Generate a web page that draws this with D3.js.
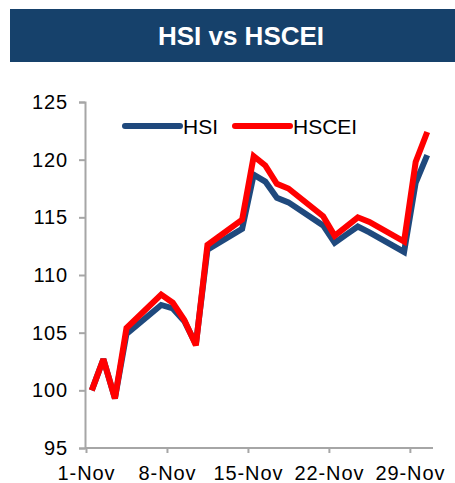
<!DOCTYPE html>
<html>
<head>
<meta charset="utf-8">
<script src="https://cdn.jsdelivr.net/npm/d3@7"></script>
<style>
html,body{margin:0;padding:0;background:#fff;}
svg{display:block;font-family:"Liberation Sans",Arial,sans-serif;}
</style>
</head>
<body>
<svg id="chart" width="455" height="483"></svg>
<script>
const days = [1,2,3,4,7,8,9,10,11,14,15,16,17,18,21,22,23,24,25,28,29,30];
const hsi   = [100.0,102.7,99.3,104.9,107.4,107.1,106.0,104.0,112.2,114.0,118.7,118.1,116.7,116.3,114.3,112.8,113.5,114.2,113.7,112.0,118.0,120.4];
const hscei = [100.0,102.7,99.3,105.4,108.3,107.6,106.1,103.9,112.6,114.8,120.3,119.5,117.9,117.5,115.1,113.4,114.2,115.0,114.6,112.9,119.8,122.4];
const xTickDays = [1,8,15,22,29];
const yTicks = [95,100,105,110,115,120,125];
const seriesNames = ["HSI","HSCEI"];
const seriesColors = ["#1F497D","#FF0000"];
const title = "HSI vs HSCEI";

const svg = d3.select("#chart");

// Title bar
svg.append("rect").attr("x",10).attr("y",9).attr("width",445).attr("height",53).attr("fill","#16416B");
svg.append("text").attr("x",241).attr("y",45).attr("text-anchor","middle")
  .attr("fill","#fff").attr("font-weight","bold").attr("font-size",26).text(title);

const date = d => new Date(2016,10,d);
const noon = d => new Date(2016,10,d,12);
const x = d3.scaleTime().domain([date(1), date(31)]).range([86, 433]);
const y = d3.scaleLinear().domain([95,125]).range([448,102]);

const axisColor = "#A6A6A6";

// Y axis
const yAxis = svg.append("g").attr("transform","translate(85,0)")
  .call(d3.axisLeft(y).tickValues(yTicks).tickSize(6).tickPadding(11).tickFormat(d3.format("d")));
// X axis
const xAxis = svg.append("g").attr("transform","translate(0,448)")
  .call(d3.axisBottom(x).tickValues(xTickDays.map(date)).tickSize(5).tickPadding(13).tickFormat(d3.timeFormat("%-d-%b")));
[yAxis,xAxis].forEach(g=>{
  g.select(".domain").attr("stroke",axisColor).attr("stroke-width",2);
  g.selectAll(".tick line").attr("stroke",axisColor).attr("stroke-width",2);
  g.selectAll(".tick text").attr("fill","#000").attr("font-size",20).attr("letter-spacing","0.9px")
    .attr("font-family","Liberation Sans, Arial, sans-serif");
});
xAxis.select(".domain").attr("d","M85,0H433");

// Lines
const line = d3.line().x(d=>x(noon(d[0]))).y(d=>y(d[1]));
[hsi,hscei].forEach((vals,k)=>{
  svg.append("path").attr("d",line(vals.map((v,i)=>[days[i],v]))).attr("fill","none")
    .attr("stroke",seriesColors[k]).attr("stroke-width",6).attr("stroke-linejoin","miter").attr("stroke-miterlimit",3);
});

// Legend
const legX = [125,235];
seriesNames.forEach((n,k)=>{
  svg.append("line").attr("x1",legX[k]).attr("x2",legX[k]+55).attr("y1",126).attr("y2",126)
    .attr("stroke",seriesColors[k]).attr("stroke-width",6).attr("stroke-linecap","round");
  svg.append("text").attr("x",legX[k]+58).attr("y",133.5).attr("font-size",21).attr("fill","#000").text(n);
});
</script>
</body>
</html>
